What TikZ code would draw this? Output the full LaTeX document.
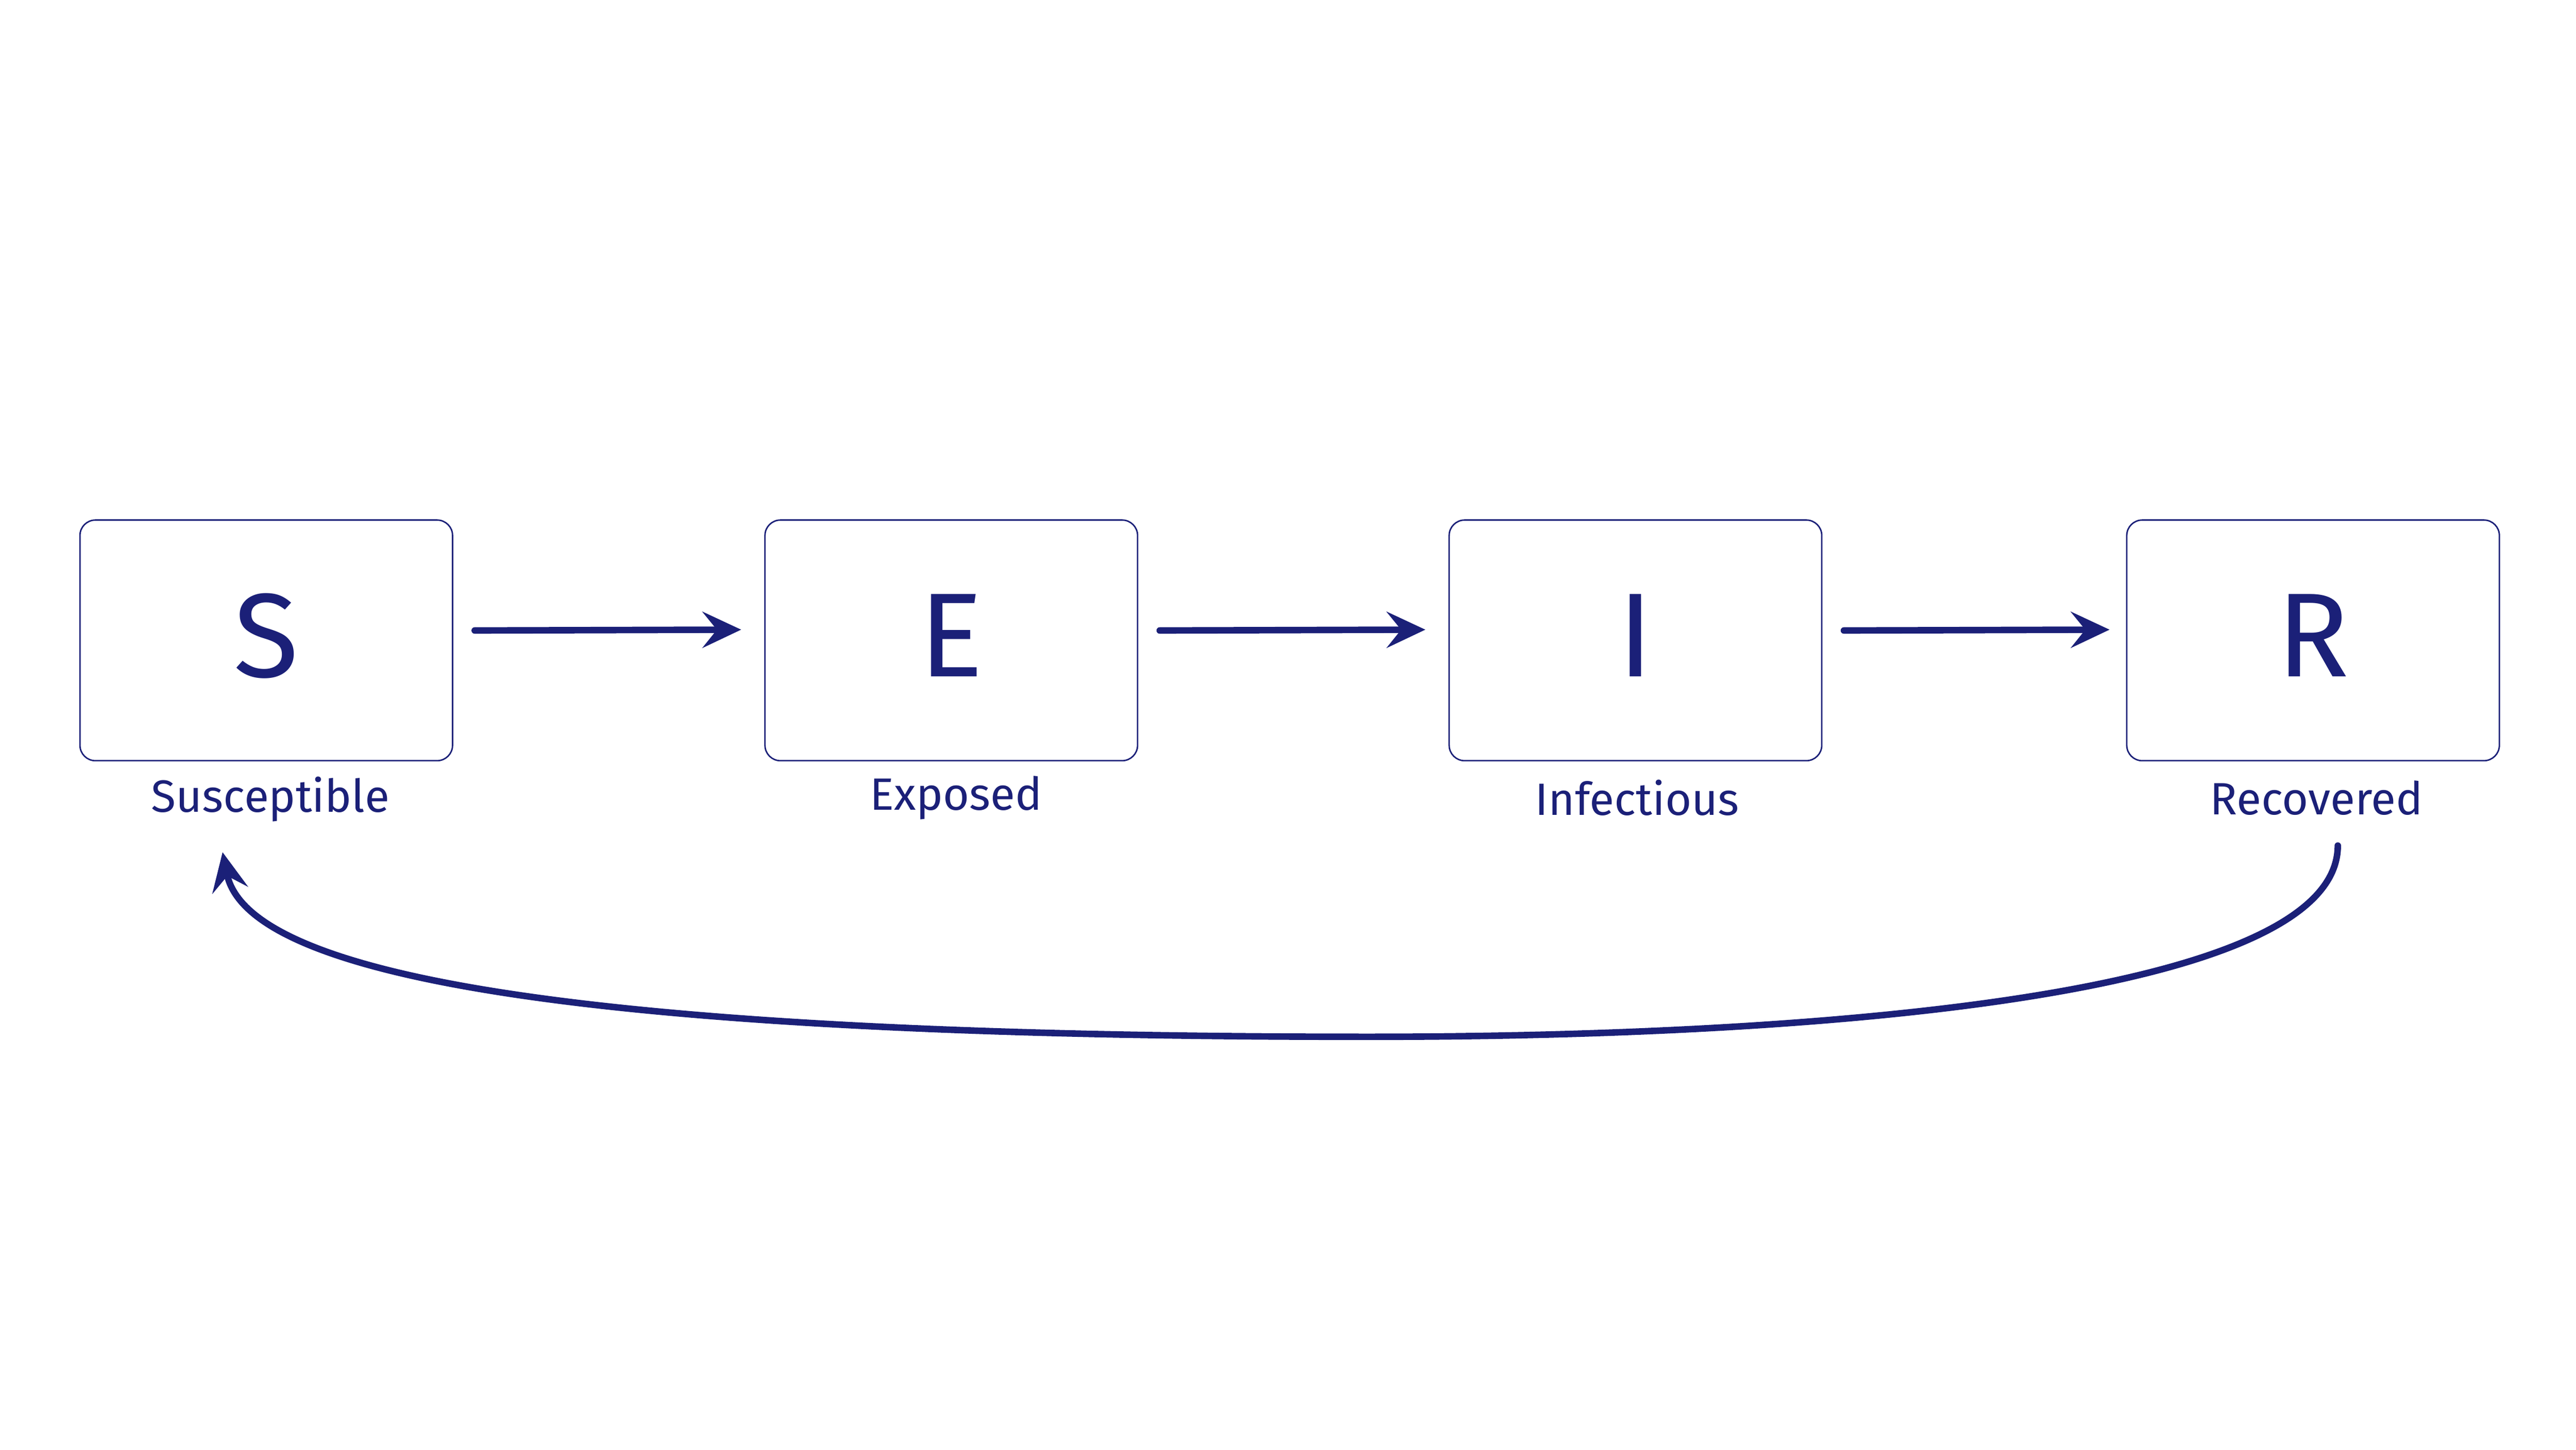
\documentclass[tikz,border=0pt]{standalone}
\usepackage{fontspec}
\setmainfont{Fira Sans}
\usetikzlibrary{arrows.meta}
\definecolor{navy}{RGB}{27,32,120}
\begin{document}
\begin{tikzpicture}[x=0.032cm,y=-0.032cm,
  box/.style={draw=navy,line width=0.8pt,rounded corners=0.3cm,minimum width=226*0.032cm,minimum height=146*0.032cm,inner sep=0pt,text=navy,font=\fontsize{66}{66}\selectfont},
  lab/.style={text=navy,font=\fontsize{25}{26}\selectfont},
  flow/.style={draw=navy,line width=3.6pt,line cap=round,-{Stealth[length=0.75cm,width=0.7cm,inset=0.28cm]}}]
\useasboundingbox (0,0) rectangle (1562.5,879.4);
\node[box] (S) at (161.5,388.5) {\raisebox{0.2cm}{S}};
\node[box] (E) at (577,388.5) {\raisebox{0.2cm}{E}};
\node[box] (I) at (992,388.5) {\raisebox{0.2cm}{I}};
\node[box] (R) at (1403,388.5) {\raisebox{0.2cm}{R}};
\node[lab] (Sl) at (164,485) {Susceptible};
\node[lab] (El) at (580,484) {Exposed};
\node[lab] (Il) at (993,484) {Infectious};
\node[lab] (Rl) at (1405,484) {Recovered};
\draw[flow] ([xshift=13*0.032cm,yshift=6*0.032cm]S.east) -- ([xshift=-14*0.032cm,yshift=6.5*0.032cm]E.west);
\draw[flow] ([xshift=13*0.032cm,yshift=6*0.032cm]E.east) -- ([xshift=-14*0.032cm,yshift=6.5*0.032cm]I.west);
\draw[flow] ([xshift=13*0.032cm,yshift=6*0.032cm]I.east) -- ([xshift=-10*0.032cm,yshift=6.5*0.032cm]R.west);
\coordinate (a) at (1418,513);
\coordinate (m) at (830,629);
\coordinate (b) at (135,517);
\draw[flow] (a) .. controls (1418,605) and (1100,629) .. (m) .. controls (350,629) and (150,592) .. (b);
\end{tikzpicture}
\end{document}
